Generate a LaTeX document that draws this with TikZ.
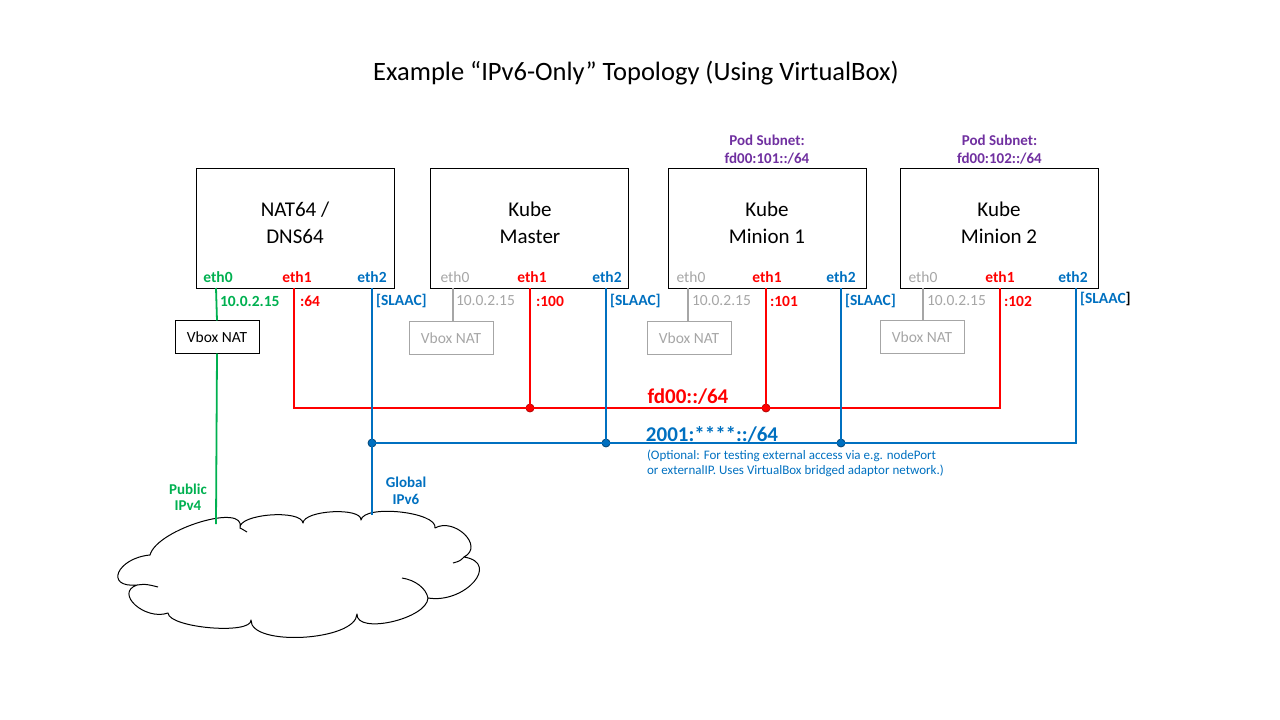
\documentclass[tikz,border=0pt]{standalone}
\usepackage{fontspec}
\setmainfont{Carlito}
\usetikzlibrary{positioning}
\definecolor{v4green}{HTML}{00B050}
\definecolor{ulared}{HTML}{FF0000}
\definecolor{gublue}{HTML}{0070C0}
\definecolor{podpurple}{HTML}{7030A0}
\definecolor{offgray}{HTML}{A6A6A6}

\begin{document}
\begin{tikzpicture}[x=1pt,y=-1pt,every node/.style={inner sep=0pt,outer sep=0pt}]
\tikzstyle{host}=[draw, line width=1pt, minimum width=198pt, minimum height=120pt]
\tikzstyle{hostname}=[align=center, font=\fontsize{21}{27}\selectfont]
\tikzstyle{port}=[font=\fontsize{15.5}{18}\selectfont\bfseries]
\tikzstyle{addr}=[port, anchor=west]
\tikzstyle{offport}=[offgray, font=\fontsize{15.5}{18}\selectfont]
\tikzstyle{vnat}=[draw, line width=1pt, minimum width=84pt, minimum height=33pt, font=\fontsize{15.5}{18}\selectfont]
\tikzstyle{pod}=[podpurple, align=center, font=\fontsize{15}{18}\selectfont\bfseries]
\tikzstyle{v4}=[v4green, line width=1.8pt]
\tikzstyle{ula}=[ulared, line width=1.8pt]
\tikzstyle{gua}=[gublue, line width=1.8pt]
\tikzstyle{off}=[offgray, line width=1.2pt]
\tikzstyle{tap}=[circle, minimum size=8pt, line width=0.8pt]
\tikzstyle{puff}=[line width=1pt, line join=round]
\useasboundingbox (0,0) rectangle (1280,720);

\node[font=\fontsize{26.5}{30}\selectfont] (title) at (636,73) {Example “IPv6-Only” Topology (Using VirtualBox)};

% hosts
\node[host] (nat) at (295,228) {};
\node[host] (master) at (529.5,228) {};
\node[host] (min1) at (767,228) {};
\node[host] (min2) at (999.5,228) {};
\node[hostname] at (295,223) {NAT64 /\\DNS64};
\node[hostname] at (530,223) {Kube\\Master};
\node[hostname] at (767,223) {Kube\\Minion 1};
\node[hostname] at (999,223) {Kube\\Minion 2};
\node[pod, above=4pt of min1] (pod1) {Pod Subnet:\\fd00:101::/64};
\node[pod, above=4pt of min2] (pod2) {Pod Subnet:\\fd00:102::/64};

% interfaces
\node[port, v4green] (nat-e0) at (218,277) {eth0};
\node[port, ulared] (nat-e1) at (297,277) {eth1};
\node[port, gublue] (nat-e2) at (372,277) {eth2};
\node[offport] (master-e0) at (455,277) {eth0};
\node[port, ulared] (master-e1) at (532,277) {eth1};
\node[port, gublue] (master-e2) at (607,277) {eth2};
\node[offport] (min1-e0) at (691,277) {eth0};
\node[port, ulared] (min1-e1) at (767,277) {eth1};
\node[port, gublue] (min1-e2) at (841,277) {eth2};
\node[offport] (min2-e0) at (923,277) {eth0};
\node[port, ulared] (min2-e1) at (1000,277) {eth1};
\node[port, gublue] (min2-e2) at (1073,277) {eth2};

% addresses
\node[addr, v4green] at (220,301) {10.0.2.15};
\node[addr, ulared] at (300,301) {:64};
\node[addr, gublue] at (376,301) {[SLAAC]};
\node[offport, anchor=west] at (456,301) {10.0.2.15};
\node[addr, ulared] at (536,301) {:100};
\node[addr, gublue] at (610,301) {[SLAAC]};
\node[offport, anchor=west] at (692,301) {10.0.2.15};
\node[addr, ulared] at (770,301) {:101};
\node[addr, gublue] at (845,301) {[SLAAC]};
\node[offport, anchor=west] at (927,301) {10.0.2.15};
\node[addr, ulared] at (1004,301) {:102};
\node[addr] at (1080,299) {{\color{gublue}[SLAAC}]};

% vbox nat
\node[vnat] (vnat0) at (217,337) {Vbox NAT};
\node[vnat, offgray] (vnat1) at (451,338) {Vbox NAT};
\node[vnat, offgray] (vnat2) at (689,338) {Vbox NAT};
\node[vnat, offgray] (vnat3) at (922,337) {Vbox NAT};

% internet cloud
\coordinate (c-a) at (150,555);
\coordinate (c-b) at (240,528);
\coordinate (c-c) at (303,523);
\coordinate (c-d) at (361,520);
\coordinate (c-e) at (435,528);
\coordinate (c-f) at (464,557);
\coordinate (c-g) at (428,598);
\coordinate (c-h) at (357,614);
\coordinate (c-i) at (251,620);
\coordinate (c-j) at (168,613);
\coordinate (c-k) at (137,585);
\draw[puff] (c-a) .. controls (157,529) and (247,502) .. (c-b)
  .. controls (238,514) and (301,509) .. (c-c)
  .. controls (304,510) and (362,507) .. (c-d)
  .. controls (364,504) and (438,512) .. (c-e)
  .. controls (454,517) and (485,546) .. (c-f)
  .. controls (501,563) and (465,604) .. (c-g)
  .. controls (427,619) and (356,635) .. (c-h)
  .. controls (356,641) and (250,647) .. (c-i)
  .. controls (252,635) and (169,628) .. (c-j)
  .. controls (145,621) and (114,593) .. (c-k)
  .. controls (104,588) and (117,558) .. cycle;
\draw[puff] (c-b) .. controls (242,529) .. (247,532);
\draw[puff] (c-f) .. controls (460,561) .. (453,563);
\draw[puff] (402,578) .. controls (415,580) and (426,588) .. (c-g);
\draw[puff] (c-k) .. controls (146,584) .. (158,587);
\coordinate (pub) at (216,524);
\coordinate (glob) at (372,515);
\node[port, v4green, align=center, font=\fontsize{15}{16}\selectfont\bfseries] at (188,497) {Public\\IPv4};
\node[port, gublue, align=center, font=\fontsize{15}{17}\selectfont\bfseries] at (406,491) {Global\\IPv6};

% uplinks
\coordinate (p-nat0) at (216,288);
\coordinate (p-nat1) at (294,288);
\coordinate (p-nat2) at (372,288);
\coordinate (p-master0) at (453,288);
\coordinate (p-master1) at (530,288);
\coordinate (p-master2) at (606,288);
\coordinate (p-min10) at (688,288);
\coordinate (p-min11) at (766,288);
\coordinate (p-min12) at (841,288);
\coordinate (p-min20) at (923,288);
\coordinate (p-min21) at (1000,288);
\coordinate (p-min22) at (1076,288);
\draw[v4] (p-nat0) -- (vnat0.north);
\draw[v4] (vnat0.south) -- (pub);
\draw[off] (p-master0) -- (p-master0 |- vnat1.north);
\draw[off] (p-min10) -- (p-min10 |- vnat2.north);
\draw[off] (p-min20) -- (p-min20 |- vnat3.north);

% fd00::/64
\coordinate (ula-l) at (294,408);
\coordinate (ula-r) at (1000,408);
\node[tap, fill=ulared, draw=ulared!70!black] (tap1) at (530,408) {};
\node[tap, fill=ulared, draw=ulared!70!black] (tap2) at (766,408) {};
\draw[ula] (p-nat1) -- (ula-l) -- (ula-r) -- (p-min21);
\draw[ula] (p-master1) -- (tap1.center);
\draw[ula] (p-min11) -- (tap2.center);
\node[ulared, font=\fontsize{21}{24}\selectfont\bfseries] (ula-lbl) at (688,397) {fd00::/64};

% 2001::/64
\node[tap, fill=gublue, draw=gublue!60!black] (tap3) at (372,443) {};
\node[tap, fill=gublue, draw=gublue!60!black] (tap4) at (606,443) {};
\node[tap, fill=gublue, draw=gublue!60!black] (tap5) at (841,443) {};
\coordinate (gua-r) at (1076,443);
\draw[gua] (p-nat2) -- (glob);
\draw[gua] (tap3.center) -- (gua-r) -- (p-min22);
\draw[gua] (p-master2) -- (tap4.center);
\draw[gua] (p-min12) -- (tap5.center);
\node[gublue, font=\fontsize{21}{24}\selectfont\bfseries] (gua-lbl) at (712,434) {2001:****::/64};
\node[gublue, anchor=north west, align=left, font=\fontsize{13}{15}\selectfont] (gua-note) at (647,450) {(Optional: For testing external access via e.g. nodePort\\or externalIP. Uses VirtualBox bridged adaptor network.)};
\end{tikzpicture}
\end{document}
